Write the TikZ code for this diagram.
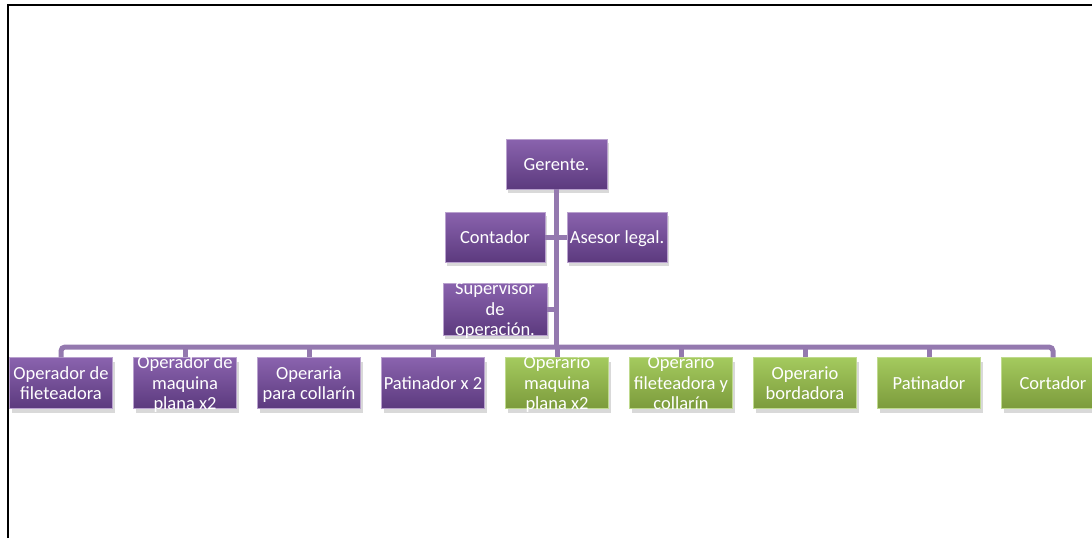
\documentclass[tikz,border=0pt]{standalone}
\usepackage{fontspec}
\setmainfont{Carlito}
\usetikzlibrary{shadows}

\definecolor{purpTop}{HTML}{8A63AE}
\definecolor{purpBot}{HTML}{5C3A7E}
\definecolor{greenTop}{HTML}{A4CA5E}
\definecolor{greenBot}{HTML}{7C9B3C}
\definecolor{connCol}{HTML}{9479AF}

\tikzset{
  orgbox/.style={rectangle, minimum width=103pt, minimum height=51pt,
    inner sep=0pt, text=white, font=\fontsize{18.5}{20.5}\selectfont,
    drop shadow={shadow xshift=2pt, shadow yshift=-4pt, opacity=0.3}},
  purpbox/.style={orgbox, draw=purpTop!60!white, top color=purpTop, bottom color=purpBot},
  greenbox/.style={orgbox, draw=greenTop!70!white, top color=greenTop, bottom color=greenBot},
  conn/.style={draw=connCol, line width=5pt},
}
% text may overflow the box, as in the original
\newcommand{\boxtext}[1]{\smash{\raisebox{-0.35em}{\begin{tabular}{@{}c@{}}#1\end{tabular}}}}

\begin{document}
\begin{tikzpicture}[x=1pt,y=-1pt]

  \useasboundingbox (0,0) rectangle (1092,538);
  \draw[line width=1.5pt] (8,538) -- (8,5) -- (1092,5);

  \node (ger) at (556.5,164) [purpbox, minimum width=101pt, minimum height=50pt] {\boxtext{Gerente.}};
  \node (cont) at (495,237) [purpbox, minimum width=100pt, minimum height=50pt] {\boxtext{Contador}};
  \node (ases) at (617,237) [purpbox, minimum width=100pt, minimum height=50pt] {\boxtext{Asesor legal.}};
  \node (sup) at (495,309) [purpbox, minimum width=104pt, minimum height=52pt] {\boxtext{Supervisor\\de\\operación.}};

  \node (opfil) at (61,383) [purpbox] {\boxtext{Operador de\\fileteadora}};
  \node (opmaq) at (185,383) [purpbox] {\boxtext{Operador de\\maquina\\plana x2}};
  \node (opcol) at (309,383) [purpbox] {\boxtext{Operaria\\para collarín}};
  \node (pat2) at (433,383) [purpbox] {\boxtext{Patinador x 2}};
  \node (omaq) at (557,383) [greenbox] {\boxtext{Operario\\maquina\\plana x2}};
  \node (ofil) at (681,383) [greenbox] {\boxtext{Operario\\fileteadora y\\collarín}};
  \node (obor) at (805,383) [greenbox] {\boxtext{Operario\\bordadora}};
  \node (pat) at (929,383) [greenbox] {\boxtext{Patinador}};
  \node (cort) at (1053,383) [greenbox] {\boxtext{Cortador}};

  \coordinate (bar) at (61,347);

  \draw[conn] (ger.south) -- (ger.south |- bar);
  \draw[conn] (cont.east) -- (ases.west);
  \draw[conn] (sup.east) -- (sup.east -| ger.south);

  \draw[conn, rounded corners=4pt] (opfil.north) -- (opfil.north |- bar)
        -- (cort.north |- bar) -- (cort.north);
  \draw[conn] (opmaq.north) -- (opmaq.north |- bar);
  \draw[conn] (opcol.north) -- (opcol.north |- bar);
  \draw[conn] (pat2.north) -- (pat2.north |- bar);
  \draw[conn] (omaq.north) -- (omaq.north |- bar);
  \draw[conn] (ofil.north) -- (ofil.north |- bar);
  \draw[conn] (obor.north) -- (obor.north |- bar);
  \draw[conn] (pat.north) -- (pat.north |- bar);

\end{tikzpicture}
\end{document}
